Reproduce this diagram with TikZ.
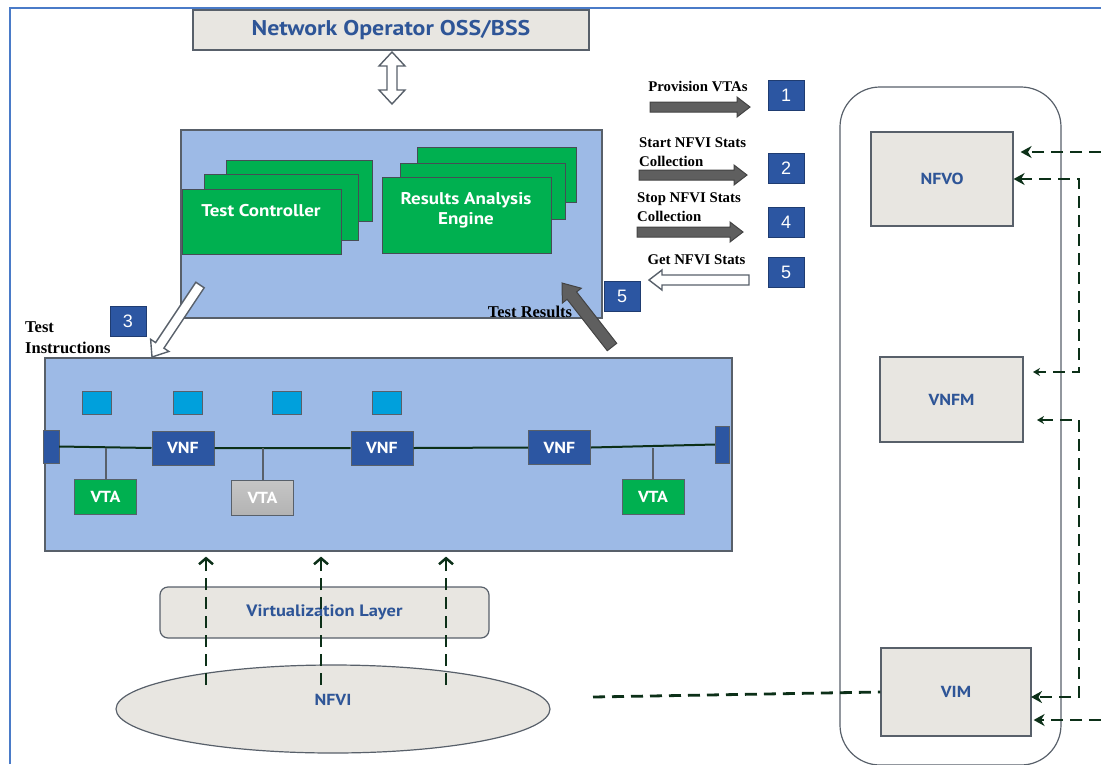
\documentclass[tikz,border=0pt]{standalone}
\usepackage{fontspec}
\setmainfont{Liberation Serif}
\newfontfamily\boxfont{PT Sans}[FakeStretch=1.12]
\newfontfamily\numfont{Liberation Sans}
\usetikzlibrary{calc,arrows.meta,shapes.geometric}

\definecolor{boxgray}{RGB}{232,230,225}
\definecolor{linegray}{RGB}{88,96,106}
\definecolor{panelblue}{RGB}{157,186,230}
\definecolor{vtagreen}{RGB}{0,176,80}
\definecolor{labelblue}{RGB}{46,85,151}
\definecolor{vnfblue}{RGB}{44,86,162}
\definecolor{portcyan}{RGB}{0,160,220}
\definecolor{arrowgray}{RGB}{95,95,95}
\definecolor{dashgreen}{RGB}{12,48,24}
\definecolor{frameblue}{RGB}{74,123,200}

\tikzset{
  box/.style={draw=linegray, line width=1.2pt, fill=boxgray, text=labelblue,
              font=\boxfont\bfseries\fontsize{16}{19}\selectfont},
  greenbox/.style={draw=linegray!80!black, line width=1pt, fill=vtagreen, text=white,
                   font=\boxfont\bfseries\fontsize{17}{20}\selectfont},
  vnfbox/.style={draw=linegray, line width=1pt, fill=vnfblue, text=white,
                 minimum width=62pt, minimum height=34pt,
                 font=\boxfont\bfseries\fontsize{16}{19}\selectfont},
  vtabox/.style={draw=linegray, line width=1pt, fill=vtagreen, text=white,
                 minimum width=62pt, minimum height=35pt,
                 font=\boxfont\bfseries\fontsize{16}{19}\selectfont},
  port/.style={draw=linegray, line width=1pt, fill=portcyan,
               minimum width=29pt, minimum height=23pt},
  badge/.style={draw=vnfblue!70!black, line width=1pt, fill=vnfblue, text=white,
                minimum width=36pt, minimum height=30pt,
                font=\numfont\fontsize{18}{20}\selectfont},
  steplabel/.style={inner sep=0pt, align=left,
                    font=\bfseries\fontsize{14.8}{19}\selectfont},
  biglabel/.style={inner sep=0pt, align=left,
                   font=\bfseries\fontsize{16.5}{21}\selectfont},
  dashlink/.style={draw=dashgreen, line width=2.8pt, dash pattern=on 12pt off 7pt},
  fullarrow/.style={draw=arrowgray!70!black, line width=1pt, fill=arrowgray},
  hollowarrow/.style={draw=linegray, line width=1.4pt, fill=white}
}

\newcommand\blockarrow[6][]{%
  \coordinate (ba-n) at ($(#3)!#6!(#2)$);
  \draw[#1] ($(#2)!#4!90:(#3)$) -- ($(ba-n)!#4!90:(#3)$) -- ($(ba-n)!#5!90:(#3)$) -- (#3)
    -- ($(ba-n)!#5!-90:(#3)$) -- ($(ba-n)!#4!-90:(#3)$) -- ($(#2)!#4!-90:(#3)$) -- cycle;}

\newcommand\dblarrow[6][]{%
  \coordinate (da-n1) at ($(#2)!#6!(#3)$);
  \coordinate (da-n2) at ($(#3)!#6!(#2)$);
  \draw[#1] (#2) -- ($(da-n1)!#5!90:(#3)$) -- ($(da-n1)!#4!90:(#3)$) -- ($(da-n2)!#4!90:(#3)$)
    -- ($(da-n2)!#5!90:(#3)$) -- (#3) -- ($(da-n2)!#5!-90:(#3)$) -- ($(da-n2)!#4!-90:(#3)$)
    -- ($(da-n1)!#4!-90:(#3)$) -- ($(da-n1)!#5!-90:(#3)$) -- cycle;}

\begin{document}
\begin{tikzpicture}[x=1pt, y=-1pt]
  \useasboundingbox (0,0) rectangle (1101,764);
  \draw[frameblue, line width=1.5pt] (10,764) -- (10,8) -- (1101,8);

  % operator and test controller
  \node[box, minimum width=396pt, minimum height=40pt,
        font=\boxfont\bfseries\fontsize{21.3}{24}\selectfont] (oss) at (391,30) {Network Operator OSS/BSS};
  \coordinate (oss-a) at (392,52);
  \coordinate (oss-b) at (392,104);
  \dblarrow[hollowarrow]{oss-a}{oss-b}{5pt}{13pt}{14pt}

  \node[draw=linegray, line width=1.2pt, fill=panelblue,
        minimum width=421pt, minimum height=188pt] (ctrl) at (391.5,224) {};
  \node[greenbox, minimum width=146pt, minimum height=61pt] (tc3) at (299,190.5) {};
  \node[greenbox, minimum width=154pt, minimum height=66pt] (tc2) at (281,207) {};
  \node[greenbox, minimum width=159pt, minimum height=65pt] (tc1) at (261.5,221.5) {};
  \node[text=white, font=\boxfont\bfseries\fontsize{17}{20}\selectfont] (tclabel) at (261,211) {Test Controller};
  \node[greenbox, minimum width=159pt, minimum height=55pt] (rae3) at (496.5,174.5) {};
  \node[greenbox, minimum width=165pt, minimum height=56pt] (rae2) at (482.5,191) {};
  \node[greenbox, minimum width=169pt, minimum height=76pt] (rae1) at (466.5,215) {};
  \node[text=white, align=center, font=\boxfont\bfseries\fontsize{17}{19.5}\selectfont] (raelabel)
        at (466,210.5) {Results Analysis\\Engine};

  % step arrows
  \node[steplabel] (lprov) at (698,86) {Provision VTAs};
  \node[steplabel, anchor=west] (lstart) at (639,152) {Start NFVI Stats\\Collection};
  \node[steplabel, anchor=west] (lstop) at (637,207.5) {Stop NFVI Stats\\Collection};
  \node[steplabel] (lget) at (696.5,260) {Get NFVI Stats};
  \coordinate (s1-a) at (650,107);  \coordinate (s1-b) at (750,107);
  \coordinate (s2-a) at (639,175);  \coordinate (s2-b) at (747,175);
  \coordinate (s4-a) at (637,232);  \coordinate (s4-b) at (743,232);
  \coordinate (s5-a) at (749,280);  \coordinate (s5-b) at (649,280);
  \blockarrow[fullarrow]{s1-a}{s1-b}{5pt}{10pt}{13pt}
  \blockarrow[fullarrow]{s2-a}{s2-b}{5pt}{10pt}{13pt}
  \blockarrow[fullarrow]{s4-a}{s4-b}{5pt}{10pt}{13pt}
  \blockarrow[hollowarrow]{s5-a}{s5-b}{5pt}{10pt}{13pt}
  \node[badge] (b1) at (786,95) {1};
  \node[badge] (b2) at (786,168) {2};
  \node[badge] (b4) at (786,222) {4};
  \node[badge] (b5) at (786,272) {5};
  \node[badge] (b5res) at (622,296.5) {5};
  \node[badge] (b3) at (128,321) {3};

  % instructions and results
  \node[biglabel, anchor=west] (linstr) at (25,337.5) {Test\\Instructions};
  \node[biglabel] (lres) at (530,312) {Test Results};
  \coordinate (instr-a) at (200,285);  \coordinate (instr-b) at (152,357);
  \coordinate (res-a) at (612,347);    \coordinate (res-b) at (562,283);
  \blockarrow[hollowarrow]{instr-a}{instr-b}{5pt}{11pt}{14pt}
  \blockarrow[fullarrow]{res-a}{res-b}{6pt}{12pt}{16pt}

  % network under test
  \node[draw=linegray, line width=1.2pt, fill=panelblue,
        minimum width=687pt, minimum height=193pt] (net) at (388.5,454.5) {};
  \node[port] (sq1) at (96.5,402.5) {};
  \node[port] (sq2) at (187.5,402.5) {};
  \node[port] (sq3) at (287,402.5) {};
  \node[port] (sq4) at (386.5,402.5) {};
  \node[draw=linegray, fill=vnfblue, minimum width=16pt, minimum height=33pt] (endl) at (51,446.5) {};
  \node[draw=linegray, fill=vnfblue, minimum width=14pt, minimum height=37pt] (endr) at (722,444.5) {};
  \node[vnfbox] (vnf1) at (183,448) {VNF};
  \node[vnfbox] (vnf2) at (382,448) {VNF};
  \node[vnfbox] (vnf3) at (559.5,447.5) {VNF};
  \node[vtabox] (vta1) at (105.5,496.5) {VTA};
  \node[vtabox, top color=gray!45, middle color=black!55, bottom color=gray!60] (vta2) at (262.5,498) {VTA};
  \node[vtabox] (vta3) at (653,496.5) {VTA};
  \draw[line width=2pt, dashgreen] (endl.east) -- (vnf1.west) (vnf1.east) -- (vnf2.west)
       (vnf2.east) -- (vnf3.west) (vnf3.east) -- (endr.west);
  \draw[line width=2pt, linegray] (vta1.north) -- (vta1.north |- vnf1.center)
       (vta2.north) -- (vta2.north |- vnf1.center) (vta3.north) -- (vta3.north |- vnf3.center);

  % infrastructure
  \node[box, rounded corners=8pt, minimum width=329pt, minimum height=51pt,
        font=\boxfont\bfseries\fontsize{16.5}{19}\selectfont] (virt) at (324.5,612.5) {Virtualization Layer};
  \node[box, ellipse, minimum width=434pt, minimum height=88pt] (nfvi) at (333,709) {};
  \node[text=labelblue, font=\boxfont\bfseries\fontsize{16}{19}\selectfont] (nfvilabel) at (333,700) {NFVI};
  \foreach \x/\n in {206/1, 321/2, 446/3} {
    \coordinate (up\n) at (\x,685);
    \draw[dashlink, line width=2.5pt, -{Straight Barb[length=6pt,width=14pt]}, shorten >=5pt]
      (up\n) -- (up\n |- net.south);
  }

  % management and orchestration
  \node[draw=linegray, line width=1.2pt, rounded corners=40pt,
        minimum width=221pt, minimum height=678pt] (mano) at (950.5,426) {};
  \node[box, minimum width=142pt, minimum height=94pt] (nfvo) at (942,179) {NFVO};
  \node[box, minimum width=143pt, minimum height=85pt] (vnfm) at (951.5,399.5) {VNFM};
  \node[box, minimum width=150pt, minimum height=88pt] (vim) at (956,692) {VIM};

  \coordinate (edge1) at (1101,152);
  \coordinate (edge2) at (1101,720);
  \coordinate (bend1) at (1079,179);
  \coordinate (bend2) at (1079,420);
  \coordinate (vnfm-in1) at (1033,372);
  \coordinate (vnfm-in2) at (1037,420);
  \coordinate (vim-in1) at (1031,697);
  \coordinate (nfvi-out) at (593,697);
  \draw[dashlink, -{Stealth[length=11pt,width=12pt]}, shorten >=7pt] (edge1) -- (edge1 -| nfvo.east);
  \draw[dashlink, {Stealth[length=11pt,width=12pt]}-{Stealth[length=7pt,width=8pt]}]
    (nfvo.east) -- (bend1) |- (vnfm-in1);
  \draw[dashlink, {Stealth[length=7pt,width=8pt]}-{Stealth[length=11pt,width=12pt]}]
    (vnfm-in2) -- (bend2) |- (vim-in1);
  \draw[dashlink, -{Stealth[length=11pt,width=12pt]}, shorten >=2pt] (edge2) -- (edge2 -| vim.east);
  \draw[dashlink] (nfvi-out) -- (vim.west);
\end{tikzpicture}
\end{document}
